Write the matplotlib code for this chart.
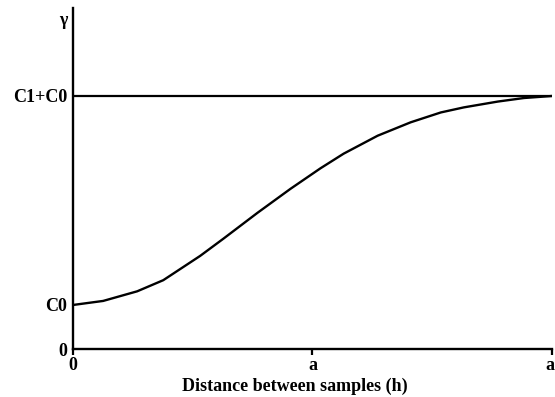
import matplotlib
matplotlib.use("Agg")
import matplotlib.pyplot as plt

# Data (normalized: sill C1+C0 = 1, a' = 2)
h = [0.0, 0.126, 0.268, 0.377, 0.531, 0.628, 0.770, 0.908, 1.033, 1.130,
     1.272, 1.410, 1.536, 1.632, 1.774, 1.883, 2.0]
gamma = [0.174, 0.190, 0.228, 0.272, 0.368, 0.436, 0.538, 0.633, 0.714, 0.772,
         0.843, 0.896, 0.935, 0.955, 0.978, 0.992, 1.0]
sill = 1.0
nugget = 0.174
x_tick_pos = [0.0, 1.0, 2.0]
x_tick_labels = ["0", "a", "a'"]
y_tick_pos = [0.0, nugget, sill, 1.308]
y_tick_labels = ["0", "C0", "C1+C0", "γ"]

plt.rcParams['font.family'] = ['Liberation Serif', 'DejaVu Serif']
plt.rcParams['font.weight'] = 'bold'

fig = plt.figure(figsize=(5.55, 3.97), dpi=100)
ax = fig.add_axes([0.1315, 0.1209, 0.8631, 0.8591])

ax.plot(h, gamma, color='black', lw=1.7, solid_joinstyle='round')
ax.axhline(sill, color='black', lw=1.6)

ax.set_xlim(0, 2.0)
ax.set_ylim(0, 1.348)

for s in ['top', 'right']:
    ax.spines[s].set_visible(False)
for s in ['left', 'bottom']:
    ax.spines[s].set_linewidth(1.7)

ax.set_xticks(x_tick_pos)
ax.set_xticklabels(x_tick_labels, fontsize=13, fontweight='bold')
ax.set_yticks(y_tick_pos)
ax.set_yticklabels(y_tick_labels, fontsize=13, fontweight='bold')
ax.tick_params(axis='x', direction='out', length=4, width=1.6, pad=2)
ax.tick_params(axis='y', length=0, pad=4)

ax.set_xlabel("Distance between samples (h)", fontsize=13, fontweight='bold')
ax.xaxis.set_label_coords(0.463, -0.085)

fig.savefig("out.png", dpi=100)
